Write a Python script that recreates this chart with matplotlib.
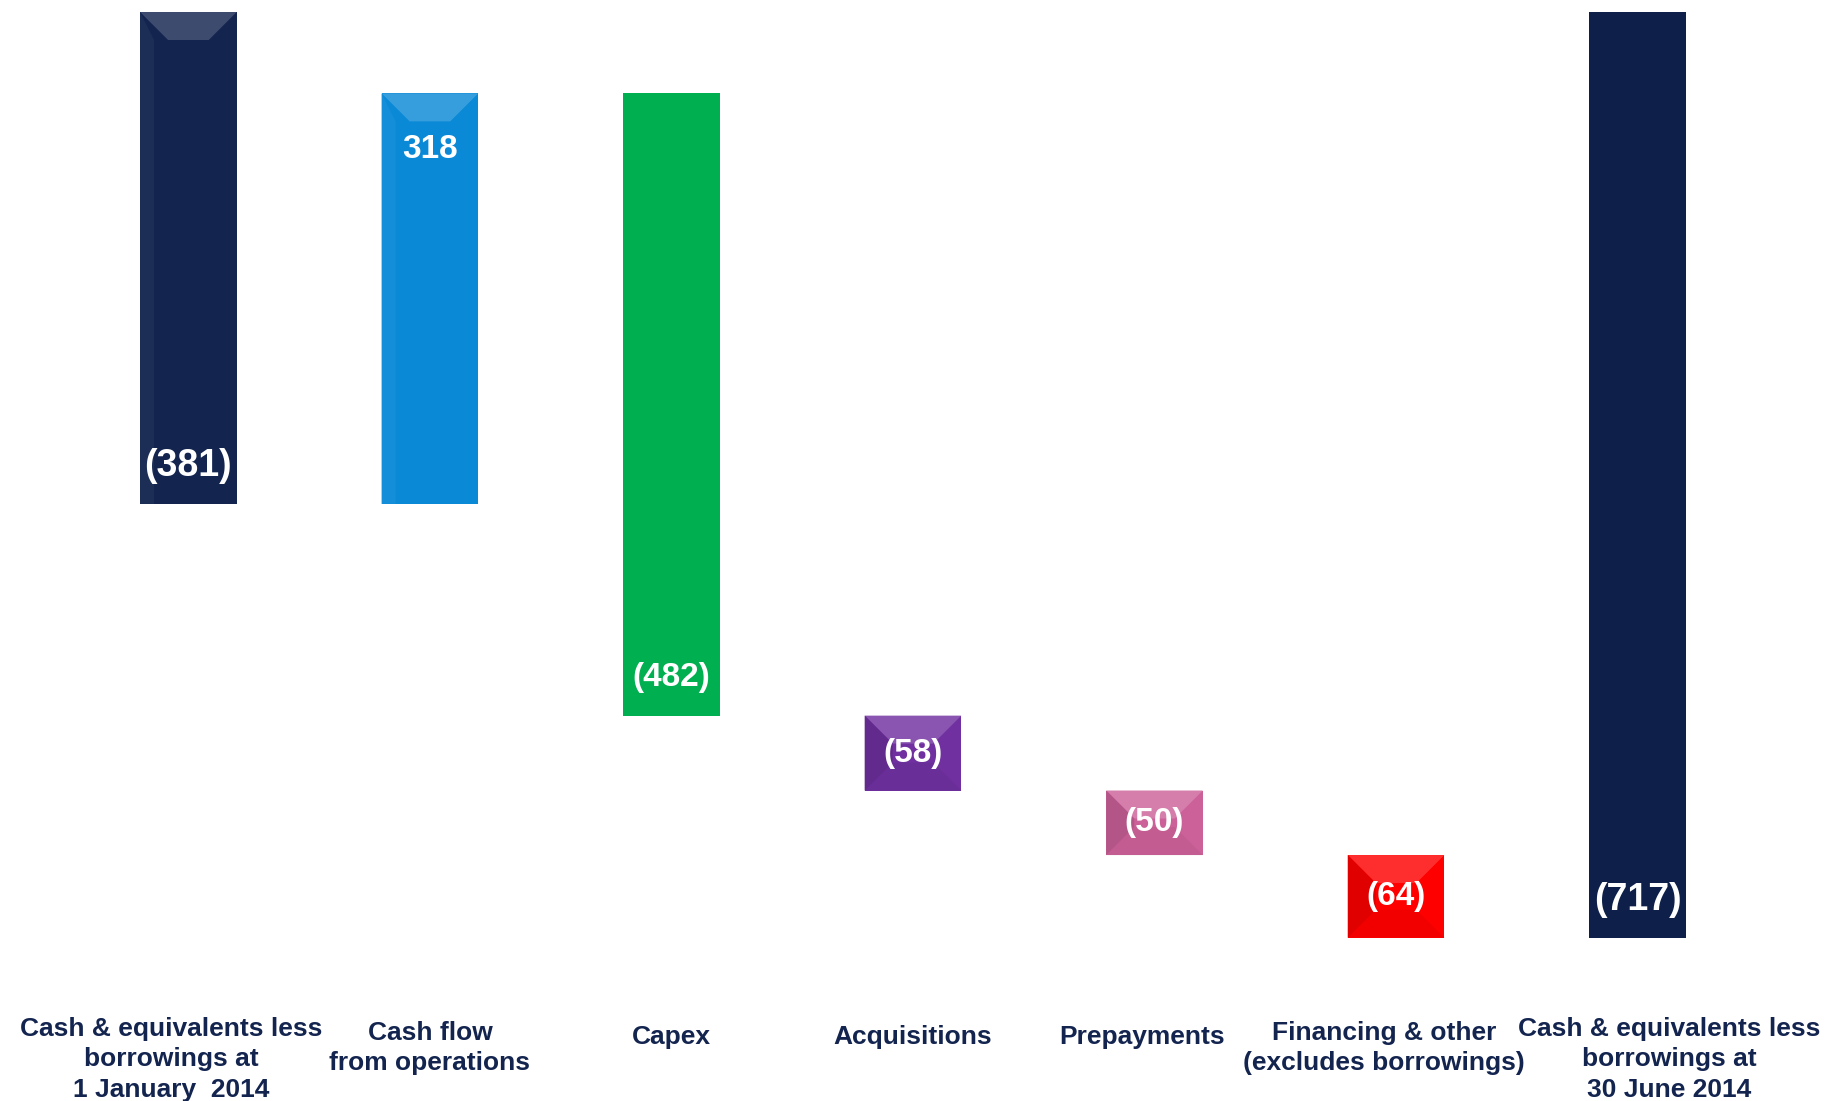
import numpy as np
import matplotlib.pyplot as plt
from matplotlib.patches import Polygon
from matplotlib import colors as mcolors

plt.rcParams['font.family'] = ['Liberation Sans', 'DejaVu Sans']

categories = ["Cash & equivalents less\nborrowings at\n1 January  2014",
              "Cash flow\nfrom operations",
              "Capex",
              "Acquisitions",
              "Prepayments",
              "Financing & other\n(excludes borrowings)",
              "Cash & equivalents less\nborrowings at\n30 June 2014"]
changes = [-381, 318, -482, -58, -50, -64]
closing = -717
value_labels = ["(381)", "318", "(482)", "(58)", "(50)", "(64)", "(717)"]
bar_colors = ["#13244f", "#0a89d6", "#00b050", "#7030a0", "#cc6199", "#ff0000", "#0e2049"]
label_color = "#13244f"

# waterfall bottoms / tops
tops = []
bottoms = []
level = 0
for c in changes:
    new = level + c
    tops.append(max(level, new))
    bottoms.append(min(level, new))
    level = new
tops.append(0)
bottoms.append(closing)
tops = np.array(tops)
bottoms = np.array(bottoms)
x = np.arange(len(categories))

fig = plt.figure(figsize=(18.25, 11.01), dpi=100)
ax = fig.add_axes([0, 0, 1, 1])
ax.set_xlim(-0.78, 6.776)
ax.set_ylim(-843.5, 9.3)
ax.axis('off')

width = 0.40
bars = ax.bar(x, tops - bottoms, bottom=bottoms, width=width, color=bar_colors,
              edgecolor='none', zorder=2)


def shade(col, f):
    r, g, b = mcolors.to_rgb(col)
    if f > 0:
        return (r + (1 - r) * f, g + (1 - g) * f, b + (1 - b) * f)
    return (r * (1 + f), g * (1 + f), b * (1 + f))


# bevel effect (capex and final bar are flat)
bx = 28 / 241.5
by = 28 / 1.291
for i in [0, 1, 3, 4, 5]:
    x0 = x[i] - width / 2
    x1 = x[i] + width / 2
    y0, y1 = bottoms[i], tops[i]
    h = y1 - y0
    d = min(by, h / 2.2)
    dx = bx * d / by
    col = bar_colors[i]
    small = h < 100
    top = Polygon([(x0, y1), (x1, y1), (x1 - dx, y1 - d), (x0 + dx, y1 - d)],
                  closed=True, color=shade(col, 0.18), lw=0, zorder=3)
    ax.add_patch(top)
    if small:
        bot = Polygon([(x0, y0), (x1, y0), (x1 - dx, y0 + d), (x0 + dx, y0 + d)],
                      closed=True, color=shade(col, -0.05), lw=0, zorder=3)
        left = Polygon([(x0, y0), (x0, y1), (x0 + dx, y1 - d), (x0 + dx, y0 + d)],
                       closed=True, color=shade(col, -0.12), lw=0, zorder=3)
        ax.add_patch(bot)
        ax.add_patch(left)
    else:
        left = Polygon([(x0, y0), (x0, y1), (x0 + dx * 0.5, y1 - d), (x0 + dx * 0.5, y0)],
                       closed=True, color=shade(col, 0.04), lw=0, zorder=3)
        ax.add_patch(left)

# value labels
for i, lab in enumerate(value_labels):
    h = tops[i] - bottoms[i]
    fs = 24
    if i == 1:
        y = tops[i] - 56 / 1.291
    elif h < 100:
        y = (tops[i] + bottoms[i]) / 2
    else:
        y = bottoms[i] + 38 / 1.291
    if i in (0, 6):
        fs = 27
    ax.text(x[i], y, lab, ha='center', va='center', color='white',
            fontsize=fs, fontweight='bold', zorder=4)

# category labels
label_dx = [-0.07, 0, 0, 0, -0.05, -0.05, 0.13]
for i, cat in enumerate(categories):
    n = cat.count("\n")
    y = -(1037 + 11 * n - 12) / 1.291
    ax.text(x[i] + label_dx[i], y, cat, ha='center', va='center',
            color=label_color, fontsize=19, fontweight='bold', linespacing=1.34)

fig.savefig("out.png", dpi=100)
